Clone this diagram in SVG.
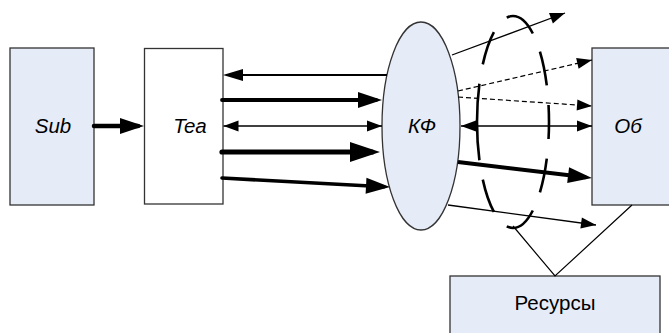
<svg xmlns="http://www.w3.org/2000/svg" width="669" height="333" viewBox="0 0 669 333">
<style>
.box{fill:#E6ECF7;stroke:#333;stroke-width:1.3}
.wbox{fill:#fff;stroke:#333;stroke-width:1.3}
.lbl{font-family:"Liberation Sans",Arial,sans-serif;font-size:20.5px;fill:#000;text-anchor:middle}
.it{font-style:italic}
.ln{stroke:#000;fill:none}
.dash{stroke-dasharray:5 3}
</style>
<defs>
<marker id="ah-s" markerUnits="userSpaceOnUse" refX="15" refY="0" markerWidth="20" markerHeight="20" orient="auto-start-reverse" overflow="visible"><path d="M0,-5.5 L15,0 L0,5.5 z" fill="#000"/></marker>
<marker id="ah-ms" markerUnits="userSpaceOnUse" refX="16" refY="0" markerWidth="24" markerHeight="24" orient="auto" overflow="visible"><path d="M0,-6 L20,0 L0,6 z" fill="#000"/></marker>
<marker id="ah-m" markerUnits="userSpaceOnUse" refX="18" refY="0" markerWidth="30" markerHeight="30" orient="auto" overflow="visible"><path d="M0,-8 L24,0 L0,8 z" fill="#000"/></marker>
<marker id="ah-l" markerUnits="userSpaceOnUse" refX="22" refY="0" markerWidth="34" markerHeight="34" orient="auto" overflow="visible"><path d="M0,-10 L30,0 L0,10 z" fill="#000"/></marker>
</defs>

<g id="node-sub"><rect class="box" x="10" y="48" width="84" height="157"/><text class="lbl it" x="53" y="133">Sub</text></g>
<g id="node-tea"><rect class="wbox" x="144.5" y="48.5" width="78.5" height="155.5"/><text class="lbl it" x="190" y="133">Tea</text></g>
<g id="node-kf"><ellipse class="box" cx="421" cy="126" rx="39" ry="104"/><text class="lbl it" x="422" y="133">КФ</text></g>
<g id="node-ob"><rect class="box" x="592" y="48" width="82" height="157"/><text class="lbl it" x="628" y="133">Об</text></g>
<g id="node-res"><rect class="box" x="450" y="276" width="210" height="62"/><text class="lbl" x="555" y="310">Ресурсы</text></g>

<g id="connectors">
<line class="ln" x1="94" y1="126" x2="138" y2="126" stroke-width="4.5" stroke-linecap="round" marker-end="url(#ah-m)"/>
<line class="ln" x1="387" y1="75" x2="227" y2="75" stroke-width="2" marker-end="url(#ah-ms)"/>
<line class="ln" x1="222" y1="100" x2="376" y2="100" stroke-width="3.8" stroke-linecap="round" marker-end="url(#ah-m)"/>
<line class="ln" x1="223.5" y1="126" x2="382" y2="126" stroke-width="1.4" marker-start="url(#ah-s)" marker-end="url(#ah-s)"/>
<line class="ln" x1="222" y1="152" x2="372" y2="152" stroke-width="5.2" stroke-linecap="round" marker-end="url(#ah-l)"/>
<line class="ln" x1="222" y1="178" x2="384" y2="186.7" stroke-width="3.6" stroke-linecap="round" marker-end="url(#ah-m)"/>

<line class="ln" x1="452" y1="55" x2="565" y2="13" stroke-width="1.3" marker-end="url(#ah-s)"/>
<line class="ln dash" x1="458" y1="91" x2="592" y2="60" stroke-width="1.2" marker-end="url(#ah-s)"/>
<line class="ln dash" x1="458" y1="97" x2="592" y2="106" stroke-width="1.2" marker-end="url(#ah-s)"/>
<line class="ln" x1="461" y1="126" x2="592" y2="126" stroke-width="1.3" marker-start="url(#ah-s)" marker-end="url(#ah-s)"/>
<line class="ln" x1="458" y1="162" x2="586" y2="177.3" stroke-width="4" marker-end="url(#ah-m)"/>
<line class="ln" x1="448" y1="205" x2="596" y2="225" stroke-width="1.3" marker-end="url(#ah-s)"/>

<polyline class="ln" points="513,226 555,276 632,205" stroke-width="1.2"/>
<path class="ln" d="M477,122 A36,106 0 1 0 549,122 A36,106 0 1 0 477,122" stroke-width="2.6" pathLength="457" stroke-dasharray="37 19 33 19 33 19 33 19 33 19 33 19 33 19 33 19 37 0"/>
</g>
</svg>
